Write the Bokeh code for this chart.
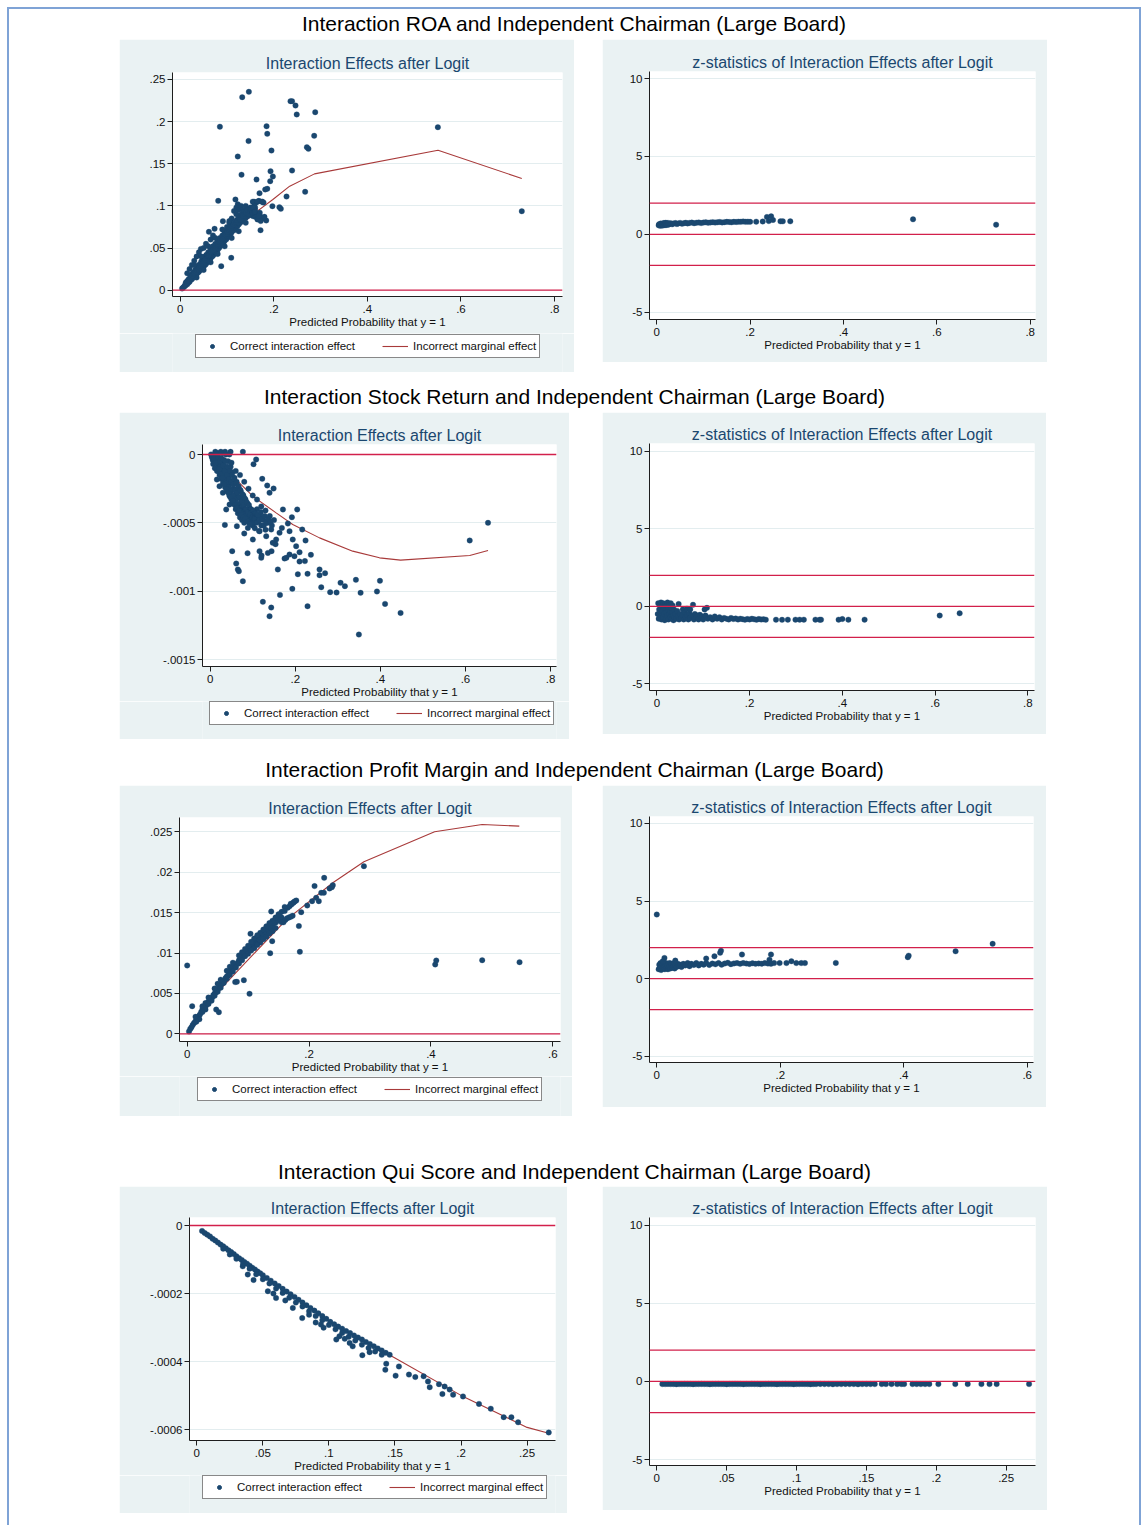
from bokeh.plotting import figure
from bokeh.models import Range1d, FixedTicker, Span, Legend, LegendItem, Label, Spacer
from bokeh.layouts import column, row
from bokeh.embed import file_html
from bokeh.resources import INLINE

# ---------------- data ----------------
row_titles = [
    "Interaction ROA and Independent Chairman (Large Board)",
    "Interaction Stock Return and Independent Chairman (Large Board)",
    "Interaction Profit Margin and Independent Chairman (Large Board)",
    "Interaction Qui Score and Independent Chairman (Large Board)",
]
left_title = "Interaction Effects after Logit"
right_title = "z-statistics of Interaction Effects after Logit"
x_axis_title = "Predicted Probability that y = 1"
legend_labels = ["Correct interaction effect", "Incorrect marginal effect"]

# (predicted probability, interaction effect)
roa_effect = [
    (0.1467,0.2354),(0.1325,0.229),(0.0848,0.194),(0.146,0.177),(0.123,0.1586),(0.131,0.137),
    (0.2357,0.2243),(0.239,0.2243),(0.2464,0.2191),(0.249,0.2085),(0.2885,0.2112),(0.2863,0.1832),
    (0.1845,0.1946),(0.186,0.1855),(0.195,0.1657),(0.2707,0.1697),(0.274,0.1677),(0.239,0.142),
    (0.193,0.1412),(0.198,0.1349),(0.1923,0.1293),(0.163,0.1313),(0.267,0.1167),(0.2272,0.1111),
    (0.1695,0.1151),(0.1816,0.1195),(0.186,0.1203),(0.197,0.0997),(0.212,0.0985),(0.215,0.0965),
    (0.0812,0.106),(0.118,0.1076),(0.123,0.102),(0.5506,0.1934),(0.730,0.0937),(0.1838,0.0827),
    (0.1716,0.0712),(0.0876,0.0285),(0.109,0.0384),(0.0613,0.0692),(0.0442,0.049),(0.0912,0.0819),
    (0.0734,0.0728),(0.12,0.098),(0.125,0.095),(0.115,0.094),(0.13,0.1),(0.158,0.105),(0.162,0.104),
    (0.168,0.106),(0.175,0.105),(0.178,0.104),(0.16,0.098),(0.165,0.09),(0.17,0.092),(0.172,0.087),
    (0.176,0.085),(0.18,0.087),(0.155,0.094),(0.15,0.09),(0.145,0.092),(0.14,0.095),(0.135,0.09),
    (0.1,0.075),(0.105,0.08),(0.11,0.085),(0.065,0.06),(0.07,0.065),(0.055,0.055),(0.05,0.05),
    (0.04,0.045),(0.035,0.04),(0.03,0.035),(0.025,0.03),(0.02,0.025),(0.015,0.02),
    (0.004,0.002),(0.006,0.003),(0.008,0.004),(0.010,0.005),(0.012,0.006),(0.012,0.009),(0.015,0.007),
    (0.015,0.011),(0.018,0.009),(0.018,0.013),(0.020,0.010),(0.022,0.012),(0.022,0.016),(0.025,0.013),
    (0.025,0.019),(0.028,0.015),(0.028,0.021),(0.030,0.016),(0.032,0.018),(0.032,0.024),(0.035,0.019),
    (0.035,0.025),(0.038,0.021),(0.038,0.028),(0.040,0.022),(0.040,0.030),(0.043,0.024),(0.043,0.031),
    (0.045,0.025),(0.045,0.034),(0.048,0.027),(0.048,0.036),(0.050,0.028),(0.050,0.038),(0.053,0.030),
    (0.053,0.040),(0.055,0.031),(0.056,0.042),(0.058,0.033),(0.060,0.035),(0.060,0.045),(0.063,0.036),
    (0.065,0.038),(0.065,0.048),(0.068,0.040),(0.070,0.041),(0.070,0.052),(0.073,0.043),(0.075,0.045),
    (0.075,0.055),(0.078,0.046),(0.080,0.048),(0.080,0.058),(0.083,0.050),(0.085,0.052),(0.085,0.062),
    (0.088,0.054),(0.090,0.055),(0.090,0.065),(0.093,0.057),(0.095,0.059),(0.095,0.068),(0.098,0.060),
    (0.100,0.062),(0.100,0.072),(0.103,0.064),(0.105,0.066),(0.105,0.075),(0.108,0.067),(0.110,0.069),
    (0.112,0.078),(0.115,0.071),(0.118,0.073),(0.120,0.082),(0.122,0.076),(0.125,0.078),(0.128,0.080),
    (0.130,0.088),(0.133,0.082),(0.135,0.085),(0.138,0.092),(0.140,0.086),(0.145,0.088),(0.150,0.090),
    (0.155,0.088),(0.160,0.087),(0.165,0.084),(0.168,0.088),(0.172,0.082),(0.035,0.015),(0.05,0.024),
    (0.065,0.033),(0.08,0.043),(0.095,0.052),(0.11,0.062),(0.125,0.07),(0.14,0.08),(0.030,0.030),
    (0.045,0.040),(0.06,0.052),(0.075,0.062),(0.09,0.072),(0.105,0.082),(0.12,0.09),(0.135,0.095),
    (0.14,0.1),(0.155,0.105),(0.165,0.105),(0.175,0.105),(0.15,0.098),(0.16,0.095),
    (0.027,0.017),(0.033,0.021),(0.037,0.023),(0.042,0.027),(0.047,0.03),(0.052,0.033),(0.057,0.036),
    (0.062,0.04),(0.067,0.043),(0.072,0.046),(0.077,0.05),(0.082,0.053),(0.087,0.056),(0.092,0.06),
    (0.097,0.063),(0.102,0.067),(0.107,0.07),(0.113,0.074),(0.117,0.077),(0.123,0.08),(0.127,0.083),
    (0.132,0.086),(0.137,0.088),(0.142,0.09),(0.147,0.093),(0.153,0.096),(0.158,0.1),
    (0.011,0.007),(0.014,0.009),(0.017,0.011),(0.019,0.012),(0.021,0.014),(0.024,0.016),(0.026,0.017),
    (0.029,0.019),(0.031,0.02),(0.034,0.022),(0.036,0.024),(0.039,0.025),(0.041,0.027),(0.044,0.029),
    (0.046,0.031),(0.049,0.032),(0.051,0.034),(0.054,0.036),(0.057,0.038),(0.059,0.04),(0.061,0.041),
    (0.064,0.043),(0.066,0.045),(0.069,0.047),(0.071,0.048),(0.074,0.05),(0.076,0.052),(0.079,0.054),
    (0.081,0.055),(0.084,0.057),(0.086,0.059),(0.089,0.061),(0.091,0.062),(0.094,0.064),(0.096,0.066),
    (0.099,0.067),(0.101,0.069),(0.104,0.071),(0.106,0.073),(0.109,0.074),(0.111,0.076),(0.114,0.078),
    (0.116,0.08),(0.119,0.081),(0.121,0.083),(0.124,0.085),(0.126,0.086),(0.129,0.084),(0.131,0.09),
    (0.134,0.088),(0.136,0.093),(0.139,0.09),(0.141,0.092),(0.144,0.095),(0.146,0.09),(0.149,0.094),
    (0.151,0.096),(0.154,0.092),(0.156,0.098),(0.159,0.093),
]
roa_marginal_x = [0.002, 0.04, 0.077, 0.12, 0.155, 0.198, 0.234, 0.287, 0.551, 0.730]
roa_marginal_y = [0.0016, 0.028, 0.052, 0.073, 0.0898, 0.1076, 0.1234, 0.138, 0.1661, 0.1325]
roa_z = [
    (0.004,0.58),(0.006,0.62),(0.008,0.66),(0.01,0.57),(0.012,0.6),(0.014,0.68),(0.016,0.63),(0.018,0.59),
    (0.02,0.66),(0.022,0.7),(0.025,0.62),(0.028,0.67),(0.03,0.71),(0.033,0.64),(0.036,0.69),(0.04,0.72),
    (0.043,0.66),(0.046,0.7),(0.05,0.73),(0.054,0.68),(0.058,0.71),(0.062,0.74),(0.066,0.7),(0.07,0.73),
    (0.075,0.75),(0.08,0.71),(0.085,0.74),(0.09,0.76),(0.095,0.72),(0.1,0.75),(0.105,0.77),(0.11,0.74),
    (0.115,0.76),(0.12,0.78),(0.125,0.75),(0.13,0.77),(0.135,0.79),(0.14,0.76),(0.145,0.78),(0.15,0.8),
    (0.155,0.79),(0.16,0.77),(0.165,0.8),(0.17,0.79),(0.175,0.81),(0.18,0.8),(0.185,0.82),(0.19,0.8),
    (0.195,0.81),(0.2,0.8),(0.213,0.81),(0.227,0.82),(0.236,1.11),(0.245,1.15),(0.24,0.85),(0.249,0.92),
    (0.265,0.83),(0.27,0.83),(0.286,0.83),(0.549,0.96),(0.727,0.62),(0.005,0.65),(0.007,0.55),(0.009,0.7),
    (0.011,0.64),(0.013,0.56),(0.015,0.72),(0.017,0.61),(0.019,0.74),(0.021,0.6),(0.024,0.73),
]

stock_effect = [
    (0.653,-0.0005),(0.610,-0.000629),(0.4475,-0.001159),(0.3495,-0.001317),(0.411,-0.001093),
    (0.392,-0.001002),(0.399,-0.000924),(0.3425,-0.000917),(0.3535,-0.001012),(0.3064,-0.000939),
    (0.3166,-0.000963),(0.282,-0.001007),(0.297,-0.00101),(0.261,-0.000971),(0.257,-0.000841),
    (0.257,-0.000883),(0.27,-0.000868),(0.2288,-0.00111),(0.2288,-0.000873),(0.206,-0.000876),
    (0.193,-0.000983),(0.164,-0.001027),(0.1395,-0.001183),(0.1434,-0.00112),(0.1238,-0.001078),
    (0.159,-0.000841),(0.0768,-0.000927),(0.0878,-0.000722),(0.0517,-0.000707),(0.0611,-0.000798),
    (0.065,-0.000841),(0.0674,-0.000854),(0.08,-0.000578),(0.0627,-0.000524),(0.0345,-0.000515),
    (0.1003,-0.000622),(0.116,-0.000707),(0.12,-0.000756),(0.1207,-0.000739),(0.1356,-0.00072),
    (0.1442,-0.000707),(0.1536,-0.000656),(0.1748,-0.000761),(0.179,-0.000756),(0.1865,-0.000732),
    (0.198,-0.000744),(0.21,-0.000715),(0.21,-0.000783),(0.2226,-0.00078),(0.2367,-0.000734),
    (0.2241,-0.000629),(0.2163,-0.000549),(0.2045,-0.000402),(0.192,-0.000459),(0.1826,-0.000505),
    (0.171,-0.000402),(0.1685,-0.000537),(0.149,-0.000249),(0.108,-0.0000366),(0.1019,-0.0000707),
    (0.0768,0.0000195),(0.0478,0.0000195),(0.1223,-0.000178),(0.1395,-0.00028),(0.134,-0.000227),
    (0.1865,-0.000561),(0.202,-0.000671),(0.194,-0.000622),(0.163,-0.000573),(0.147,-0.000646),
    (0.1317,-0.000598),(0.155,-0.000622),(0.1434,-0.000549),(0.116,-0.000561),(0.1003,-0.000476),
    (0.0886,-0.000537),(0.0157,-0.000183),(0.0219,-0.000232),(0.0298,-0.00028),(0.0376,-0.000402),
    (0.0455,-0.000366),
    (0.002,0.0),(0.004,-0.00002),(0.006,-0.00004),(0.008,-0.00001),(0.01,-0.00006),(0.012,-0.00003),
    (0.014,-0.0001),(0.015,0.00001),(0.017,-0.00005),(0.018,-0.00012),(0.02,0.00001),(0.02,-0.00008),
    (0.022,-0.00015),(0.024,-0.00003),(0.025,-0.0001),(0.026,-0.00018),(0.028,0.00001),(0.028,-0.00007),
    (0.03,-0.00013),(0.03,-0.00021),(0.032,-0.00004),(0.033,-0.00016),(0.035,-0.00009),(0.035,-0.00024),
    (0.037,0.0),(0.038,-0.00019),(0.04,-0.00012),(0.04,-0.00027),(0.042,-0.00005),(0.043,-0.00022),
    (0.045,-0.00015),(0.045,-0.0003),(0.048,-0.00009),(0.05,-0.0002),(0.05,-0.00033),(0.052,-0.00013),
    (0.055,-0.00025),(0.055,-0.00036),(0.057,-0.00017),(0.06,-0.00029),(0.06,-0.0004),(0.062,-0.0002),
    (0.065,-0.00032),(0.065,-0.00043),(0.067,-0.00024),(0.07,-0.00036),(0.07,-0.00046),(0.072,-0.00027),
    (0.075,-0.0004),(0.075,-0.00048),(0.078,-0.0003),(0.08,-0.00042),(0.08,-0.0005),(0.083,-0.00033),
    (0.085,-0.00045),(0.088,-0.00036),(0.09,-0.00048),(0.092,-0.00039),(0.095,-0.0005),(0.098,-0.00042),
    (0.1,-0.00052),(0.103,-0.00044),(0.105,-0.00054),(0.108,-0.00046),(0.11,-0.0004),(0.113,-0.00049),
    (0.115,-0.00056),(0.118,-0.00045),(0.12,-0.00052),(0.125,-0.00048),(0.13,-0.00055),(0.135,-0.0005),
    (0.14,-0.00045),(0.145,-0.00052),(0.15,-0.00048),(0.06,-0.00012),(0.07,-0.00015),(0.08,-0.0002),
    (0.09,-0.00025),(0.1,-0.0003),(0.11,-0.00033),(0.12,-0.00038),(0.13,-0.00041),(0.05,-0.00006),
    (0.045,0.0),(0.035,0.00002),(0.025,0.00002),(0.012,0.00002),
    (0.016,-0.00003),(0.019,-0.00006),(0.023,-0.00009),(0.027,-0.00012),(0.031,-0.00015),
    (0.034,-0.00018),(0.039,-0.00021),(0.044,-0.00024),(0.049,-0.00027),(0.054,-0.0003),
    (0.059,-0.00033),(0.064,-0.00036),(0.069,-0.00039),(0.074,-0.00042),(0.079,-0.00045),
    (0.084,-0.00048),(0.089,-0.00043),(0.094,-0.00046),(0.099,-0.00049),(0.104,-0.0005),
    (0.005,-0.00001),(0.007,-0.00007),(0.009,-0.00003),(0.011,-0.0001),(0.013,-0.00006),(0.016,-0.00012),
    (0.018,-0.00002),(0.021,-0.00011),(0.023,-0.00005),(0.026,-0.00014),(0.027,-0.00003),(0.029,-0.00017),
    (0.031,-0.00008),(0.033,-0.00022),(0.034,-0.00012),(0.036,-0.00005),(0.038,-0.00025),(0.039,-0.00015),
    (0.041,-0.00009),(0.043,-0.00028),(0.044,-0.00018),(0.046,-0.00012),(0.047,-0.00031),(0.049,-0.0002),
    (0.051,-0.00015),(0.053,-0.00034),(0.054,-0.00022),(0.056,-0.00018),(0.058,-0.00037),(0.059,-0.00026),
    (0.061,-0.00021),(0.063,-0.00039),(0.064,-0.00028),(0.066,-0.00023),(0.068,-0.00041),(0.069,-0.00031),
    (0.071,-0.00026),(0.073,-0.00044),(0.074,-0.00034),(0.076,-0.00029),(0.078,-0.00046),(0.079,-0.00037),
    (0.081,-0.00032),(0.083,-0.00047),(0.084,-0.0004),(0.086,-0.00035),(0.088,-0.00049),(0.089,-0.00042),
    (0.091,-0.00037),(0.093,-0.00051),(0.094,-0.00044),(0.096,-0.0004),(0.099,-0.00046),(0.101,-0.00041),
    (0.104,-0.00047),(0.106,-0.00043),(0.109,-0.0005),(0.112,-0.00044),(0.116,-0.00048),(0.119,-0.00042),
    (0.122,-0.00047),(0.126,-0.00052),(0.128,-0.00045),(0.132,-0.0005),(0.137,-0.00047),(0.142,-0.00049),
]
stock_marginal_x = [0.0, 0.045, 0.1, 0.155, 0.194, 0.257, 0.335, 0.398, 0.4475, 0.61, 0.653]
stock_marginal_y = [0.0, -0.000134, -0.000305, -0.000427, -0.000512, -0.00061, -0.000707,
                    -0.000756, -0.000773, -0.000739, -0.000702]
stock_z = [
    (0.002,-0.5),(0.003,0.2),(0.004,-0.8),(0.005,-0.2),(0.006,0.1),(0.007,-0.6),(0.008,-0.4),(0.009,0.25),
    (0.01,-0.85),(0.011,0.0),(0.012,-0.3),(0.013,-0.7),(0.014,0.2),(0.015,-0.5),(0.016,-0.1),(0.017,-0.9),
    (0.018,0.15),(0.019,-0.4),(0.02,-0.75),(0.021,0.05),(0.022,-0.6),(0.023,0.25),(0.024,-0.2),(0.025,-0.85),
    (0.026,0.1),(0.027,-0.5),(0.028,-0.3),(0.029,-0.7),(0.03,0.2),(0.031,-0.1),(0.032,-0.8),(0.033,-0.4),
    (0.034,0.05),(0.035,-0.6),(0.036,-0.9),(0.037,-0.2),(0.038,-0.7),(0.04,-0.5),(0.042,-0.8),(0.044,-0.3),
    (0.046,-0.65),(0.047,0.15),(0.048,-0.85),(0.05,-0.5),(0.052,-0.75),(0.055,-0.6),(0.056,-0.2),
    (0.058,-0.85),(0.06,-0.4),(0.062,-0.7),(0.065,-0.15),(0.065,-0.55),(0.068,-0.85),(0.07,-0.45),
    (0.072,-0.2),(0.072,-0.75),(0.075,-0.6),(0.078,0.1),(0.08,-0.85),(0.082,-0.5),(0.085,-0.7),
    (0.088,-0.6),(0.09,-0.85),(0.093,-0.55),(0.095,-0.75),(0.098,-0.65),(0.1,-0.85),(0.103,-0.2),
    (0.108,-0.1),(0.105,-0.6),(0.11,-0.8),(0.115,-0.7),(0.12,-0.85),(0.125,-0.65),(0.13,-0.8),(0.135,-0.7),
    (0.14,-0.85),(0.145,-0.75),(0.15,-0.8),(0.155,-0.85),(0.16,-0.75),(0.165,-0.82),(0.17,-0.78),
    (0.175,-0.85),(0.18,-0.8),(0.185,-0.83),(0.19,-0.86),(0.195,-0.82),(0.2,-0.85),(0.205,-0.8),
    (0.21,-0.84),(0.215,-0.86),(0.22,-0.82),(0.225,-0.85),(0.23,-0.84),(0.235,-0.86),(0.257,-0.86),
    (0.27,-0.87),(0.2825,-0.86),(0.299,-0.86),(0.308,-0.86),(0.317,-0.86),(0.342,-0.86),(0.351,-0.87),
    (0.354,-0.86),(0.392,-0.86),(0.4,-0.82),(0.413,-0.86),(0.448,-0.86),(0.61,-0.6),(0.653,-0.45),
]

margin_effect = [
    (0.003,0.0003),(0.005,0.0006),(0.007,0.0008),(0.009,0.0011),(0.011,0.0013),(0.013,0.0015),
    (0.015,0.0017),(0.017,0.0019),(0.019,0.0022),(0.021,0.0024),(0.023,0.0027),(0.025,0.003),
    (0.027,0.0031),(0.029,0.0034),(0.031,0.0035),(0.033,0.0038),(0.035,0.004),(0.037,0.0041),
    (0.039,0.0044),(0.041,0.0045),(0.043,0.0048),(0.045,0.005),(0.047,0.0051),(0.049,0.0054),
    (0.051,0.0056),(0.053,0.0058),(0.055,0.0061),(0.057,0.0062),(0.059,0.0065),(0.061,0.0066),
    (0.063,0.0069),(0.065,0.0071),(0.067,0.0072),(0.069,0.0075),(0.071,0.0077),(0.073,0.0078),
    (0.075,0.0081),(0.077,0.0082),(0.079,0.0085),(0.081,0.0086),(0.083,0.0088),(0.085,0.0091),
    (0.087,0.0092),(0.089,0.0094),(0.091,0.0095),(0.093,0.0098),(0.095,0.0099),(0.097,0.0101),
    (0.099,0.0103),(0.101,0.0104),(0.103,0.0106),(0.105,0.0108),(0.107,0.011),(0.109,0.0111),
    (0.111,0.0113),(0.113,0.0114),(0.115,0.0117),(0.117,0.0117),(0.119,0.012),(0.121,0.012),
    (0.123,0.0123),(0.125,0.0123),(0.127,0.0126),(0.129,0.0126),(0.131,0.0129),(0.133,0.0129),
    (0.135,0.0132),(0.137,0.0132),(0.14,0.0134),(0.143,0.0137),(0.146,0.0138),(0.149,0.0141),
    (0.152,0.0142),(0.155,0.0144),(0.158,0.0138),(0.161,0.0141),(0.164,0.0143),(0.167,0.0144),
    (0.170,0.0145),(0.173,0.0146),(0.165,0.0156),(0.168,0.0158),(0.171,0.016),(0.174,0.0162),
    (0.177,0.0164),(0.179,0.0165),(0.02,0.0018),(0.03,0.003),(0.04,0.0041),(0.05,0.0052),(0.06,0.0063),
    (0.07,0.0073),(0.08,0.0082),(0.09,0.0091),(0.1,0.0099),(0.11,0.0106),(0.12,0.0113),(0.13,0.012),
    (0.14,0.0127),(0.03,0.0038),(0.05,0.0062),(0.07,0.0083),(0.09,0.0101),(0.1,0.0109),(0.11,0.0118),
    (0.12,0.0125),(0.13,0.0133),(0.14,0.014),(0.15,0.0148),(0.155,0.0151),
    (0.015,0.0015),(0.025,0.0027),(0.035,0.0037),(0.045,0.0047),(0.055,0.0057),(0.065,0.0068),
    (0.075,0.0077),(0.085,0.0087),(0.095,0.0096),(0.105,0.0103),(0.115,0.011),(0.125,0.0117),
    (0.135,0.0124),(0.145,0.0131),(0.155,0.0138),(0.025,0.0034),(0.035,0.0045),(0.045,0.0056),
    (0.055,0.0067),(0.065,0.0078),(0.075,0.0088),(0.085,0.0097),(0.095,0.0105),(0.105,0.0114),
    (0.115,0.0122),(0.125,0.0129),(0.135,0.0137),(0.145,0.0144),(0.16,0.0157),(0.17,0.0161),
    (0.175,0.0163),
    (0.0,0.00846),(0.0082,0.00342),(0.0137,0.0021),(0.0476,0.003),(0.052,0.00268),(0.1023,0.00495),
    (0.093,0.00664),(0.0788,0.0064),(0.0815,0.00644),(0.1039,0.01238),(0.1379,0.01514),(0.1362,0.00998),
    (0.1395,0.01147),(0.1849,0.01015),(0.1833,0.01333),(0.1871,0.01506),(0.209,0.01828),(0.2248,0.0193),
    (0.197,0.01588),(0.205,0.01642),(0.216,0.01642),(0.2117,0.01683),(0.22,0.01745),(0.2243,0.01745),
    (0.2336,0.01799),(0.239,0.0184),(0.2374,0.01815),(0.29,0.02075),(0.407,0.00858),(0.4087,0.00907),
    (0.4841,0.00911),(0.5454,0.00887),(0.1515,0.01477),(0.16,0.0152),
]
margin_marginal_x = [0.0, 0.053, 0.108, 0.1625, 0.239, 0.29, 0.406, 0.484, 0.545]
margin_marginal_y = [0.0, 0.0054, 0.0098, 0.0141, 0.0187, 0.0213, 0.025, 0.0259, 0.0257]
margin_z = [
    (0.003,0.6),(0.004,0.9),(0.005,0.7),(0.006,1.0),(0.007,0.55),(0.008,0.8),(0.009,0.95),(0.01,0.65),
    (0.011,1.05),(0.012,0.75),(0.013,0.6),(0.014,0.9),(0.015,1.0),(0.016,0.7),(0.017,0.85),(0.018,0.6),
    (0.019,0.95),(0.02,0.75),(0.021,1.0),(0.022,0.65),(0.023,0.85),(0.024,0.95),(0.025,0.7),(0.026,0.9),
    (0.027,0.8),(0.028,1.0),(0.029,0.65),(0.03,0.85),(0.032,0.75),(0.034,0.95),(0.036,0.8),(0.038,0.9),
    (0.04,0.75),(0.043,0.95),(0.046,0.85),(0.05,1.0),(0.053,0.8),(0.056,0.95),(0.06,0.88),(0.064,1.0),
    (0.068,0.85),(0.072,0.95),(0.076,0.9),(0.08,1.0),(0.085,0.88),(0.09,0.97),(0.095,0.92),(0.1,1.0),
    (0.105,0.9),(0.11,0.97),(0.115,1.02),(0.12,0.93),(0.125,0.98),(0.13,1.0),(0.135,0.95),(0.14,1.0),
    (0.145,0.97),(0.15,0.94),(0.155,0.99),(0.16,0.95),(0.165,0.98),(0.17,0.96),(0.175,1.0),(0.18,0.97),
    (0.185,0.95),(0.19,1.0),(0.199,1.0),(0.21,1.0),(0.218,1.12),(0.226,1.0),(0.234,1.0),(0.24,1.0),
    (0.0,4.13),(0.0124,1.33),(0.0097,1.12),(0.030,1.16),(0.08,1.29),(0.0934,1.44),(0.1026,1.66),
    (0.104,1.8),(0.138,1.55),(0.185,1.55),(0.1825,1.22),(0.29,1.01),(0.4066,1.38),(0.408,1.48),
    (0.484,1.76),(0.544,2.24),
]

qui_effect = [
    (0.004,-0.000016),(0.006,-0.000022),(0.008,-0.000027),(0.01,-0.000032),(0.012,-0.000039),
    (0.014,-0.000044),(0.016,-0.00005),(0.018,-0.000056),(0.02,-0.000061),(0.022,-0.000067),
    (0.024,-0.000073),(0.026,-0.000078),(0.028,-0.000084),(0.03,-0.00009),(0.032,-0.000096),
    (0.034,-0.000101),(0.036,-0.000107),(0.038,-0.000112),(0.04,-0.000118),(0.042,-0.000124),
    (0.044,-0.000129),(0.046,-0.000135),(0.048,-0.00014),(0.05,-0.000146),(0.053,-0.000154),
    (0.056,-0.000162),(0.059,-0.00017),(0.062,-0.000178),(0.065,-0.000186),(0.068,-0.000194),
    (0.071,-0.000202),(0.074,-0.00021),(0.077,-0.000218),(0.08,-0.000226),(0.083,-0.000234),
    (0.086,-0.000242),(0.089,-0.00025),(0.092,-0.000258),(0.095,-0.000266),(0.098,-0.000274),
    (0.101,-0.000283),(0.104,-0.00029),(0.107,-0.000297),(0.11,-0.000303),(0.113,-0.00031),
    (0.116,-0.000316),(0.119,-0.000323),(0.122,-0.000329),(0.125,-0.000335),(0.128,-0.000342),
    (0.131,-0.000348),(0.134,-0.000355),(0.137,-0.000361),(0.14,-0.000367),(0.143,-0.000374),
    (0.146,-0.00038),(0.02,-0.000068),(0.025,-0.000085),(0.03,-0.000098),(0.035,-0.000113),
    (0.04,-0.000127),(0.045,-0.000143),(0.05,-0.000158),(0.055,-0.00017),(0.06,-0.000185),
    (0.065,-0.000198),(0.07,-0.000212),(0.075,-0.000226),(0.08,-0.000238),(0.085,-0.000252),
    (0.09,-0.000266),(0.095,-0.000278),(0.1,-0.000292),(0.105,-0.000305),(0.11,-0.000316),
    (0.115,-0.000327),(0.12,-0.000338),(0.125,-0.00035),(0.13,-0.00036),(0.135,-0.00037),
    (0.14,-0.00038),(0.0386,-0.000144),(0.0348,-0.00012),(0.043,-0.00016),(0.058,-0.0002),
    (0.067,-0.00022),(0.085,-0.000262),(0.09,-0.000285),(0.096,-0.0003),(0.108,-0.000325),
    (0.112,-0.000333),(0.118,-0.000355),(0.0538,-0.000193),(0.06,-0.000213),(0.0727,-0.000242),
    (0.0798,-0.000272),(0.094,-0.000291),(0.1056,-0.000335),(0.1157,-0.000345),(0.1253,-0.000381),
    (0.1308,-0.000372),(0.1427,-0.000424),(0.1434,-0.000406),(0.1505,-0.000441),(0.153,-0.000414),
    (0.1606,-0.000438),(0.1654,-0.000445),(0.1717,-0.000443),(0.175,-0.000458),(0.1763,-0.000475),
    (0.1833,-0.000466),(0.1859,-0.000495),(0.1876,-0.000473),(0.1914,-0.000482),(0.194,-0.000497),
    (0.2015,-0.000502),(0.2136,-0.000524),(0.2225,-0.000538),(0.2323,-0.000563),(0.2381,-0.000563),
    (0.2432,-0.000578),(0.2664,-0.000608),
]
qui_marginal_x = [0.0028, 0.025, 0.05, 0.1, 0.15, 0.2, 0.25, 0.2664]
qui_marginal_y = [-0.0000118, -0.000074, -0.000146, -0.000281, -0.000389, -0.000499, -0.000593, -0.00061]
qui_z = [
    (0.004,-0.17),(0.006,-0.17),(0.008,-0.16),(0.01,-0.17),(0.012,-0.17),(0.014,-0.18),(0.016,-0.17),
    (0.018,-0.17),(0.02,-0.16),(0.022,-0.17),(0.024,-0.17),(0.026,-0.18),(0.028,-0.17),(0.03,-0.17),
    (0.032,-0.16),(0.034,-0.17),(0.036,-0.17),(0.038,-0.18),(0.04,-0.17),(0.042,-0.17),(0.044,-0.16),
    (0.046,-0.17),(0.048,-0.17),(0.05,-0.18),(0.052,-0.17),(0.054,-0.17),(0.056,-0.16),(0.058,-0.17),
    (0.06,-0.17),(0.062,-0.18),(0.064,-0.17),(0.066,-0.17),(0.068,-0.16),(0.07,-0.17),(0.072,-0.17),
    (0.074,-0.18),(0.076,-0.17),(0.078,-0.17),(0.08,-0.16),(0.082,-0.17),(0.084,-0.17),(0.086,-0.18),
    (0.088,-0.17),(0.09,-0.17),(0.092,-0.16),(0.094,-0.17),(0.096,-0.17),(0.098,-0.18),(0.1,-0.17),
    (0.102,-0.17),(0.104,-0.16),(0.106,-0.17),(0.108,-0.17),(0.11,-0.18),(0.112,-0.17),(0.114,-0.17),
    (0.117,-0.16),(0.12,-0.17),(0.123,-0.17),(0.126,-0.18),(0.129,-0.17),(0.132,-0.17),(0.135,-0.16),
    (0.138,-0.17),(0.141,-0.17),(0.144,-0.18),(0.147,-0.17),(0.15,-0.17),(0.153,-0.17),(0.156,-0.17),
    (0.161,-0.17),(0.164,-0.17),(0.168,-0.17),(0.172,-0.17),(0.175,-0.17),(0.177,-0.17),(0.183,-0.17),
    (0.186,-0.17),(0.189,-0.17),(0.192,-0.17),(0.195,-0.17),(0.2015,-0.17),(0.2136,-0.17),(0.2225,-0.17),
    (0.2323,-0.17),(0.2381,-0.17),(0.2432,-0.17),(0.2664,-0.17),
]

z_ref_lines = [-2, 0, 2]
z_ticks = [-5, 0, 5, 10]
z_tick_labels = ["-5", "0", "5", "10"]
x8_ticks = [0, 0.2, 0.4, 0.6, 0.8]
x8_labels = ["0", ".2", ".4", ".6", ".8"]
x6_ticks = [0, 0.2, 0.4, 0.6]
x6_labels = ["0", ".2", ".4", ".6"]
x25_ticks = [0, 0.05, 0.1, 0.15, 0.2, 0.25]
x25_labels = ["0", ".05", ".1", ".15", ".2", ".25"]
roa_y_ticks = [0, 0.05, 0.1, 0.15, 0.2, 0.25]
roa_y_labels = ["0", ".05", ".1", ".15", ".2", ".25"]
stock_y_ticks = [0, -0.0005, -0.001, -0.0015]
stock_y_labels = ["0", "-.0005", "-.001", "-.0015"]
margin_y_ticks = [0, 0.005, 0.01, 0.015, 0.02, 0.025]
margin_y_labels = ["0", ".005", ".01", ".015", ".02", ".025"]
qui_y_ticks = [0, -0.0002, -0.0004, -0.0006]
qui_y_labels = ["0", "-.0002", "-.0004", "-.0006"]

# ---------------- styling ----------------
FONT = "Liberation Sans"
NAVY = "#1a476f"
BG = "#eaf2f3"
REF = "#d2204b"
MARG = "#a83a3a"
AXIS = "#1e1e1e"
FRAME_COLOR = "#7fa3d6"
TOTAL_W = 1130


def base_panel(w, h, L, R, T, B, xr, yr, xt, xl, yt, yl, title):
    p = figure(width=w, height=h, x_range=Range1d(*xr), y_range=Range1d(*yr),
               output_backend="svg", toolbar_location=None, title=title,
               min_border_left=L, min_border_right=R, min_border_top=T, min_border_bottom=B)
    p.background_fill_color = "white"
    p.border_fill_color = BG
    p.outline_line_color = None
    p.title.align = "center"
    p.title.text_font = FONT
    p.title.text_font_size = "16px"
    p.title.text_font_style = "normal"
    p.title.text_color = NAVY
    p.title.standoff = 1
    p.xaxis.ticker = FixedTicker(ticks=xt)
    p.xaxis.major_label_overrides = dict(zip(xt, xl))
    p.yaxis.ticker = FixedTicker(ticks=yt)
    p.yaxis.major_label_overrides = dict(zip(yt, yl))
    for ax in (p.xaxis[0], p.yaxis[0]):
        ax.axis_line_color = AXIS
        ax.major_tick_line_color = AXIS
        ax.minor_tick_line_color = None
        ax.major_tick_in = 0
        ax.major_tick_out = 5
        ax.major_label_text_font = FONT
        ax.major_label_text_font_size = "11.5px"
        ax.major_label_text_color = "#111111"
    p.yaxis.major_label_standoff = 2
    p.xaxis.major_label_standoff = 3
    p.xaxis.axis_label = x_axis_title
    p.xaxis.axis_label_text_font = FONT
    p.xaxis.axis_label_text_font_size = "11.5px"
    p.xaxis.axis_label_text_font_style = "normal"
    p.xaxis.axis_label_text_color = "#111111"
    p.xaxis.axis_label_standoff = 0
    p.xgrid.visible = False
    p.ygrid.grid_line_color = "#e3edef"
    p.ygrid.grid_line_width = 1
    return p


def legend_box(w, h, dx, dy, xs, ys, mx, my):
    # strip under the plot; its x range lies beyond the data, so the series drawn
    # here stay out of view and only lend their styles to the legend
    lf = figure(width=w, height=h, output_backend="svg", toolbar_location=None,
                x_axis_type=None, y_axis_type=None, min_border=0,
                x_range=Range1d(10, 11), y_range=Range1d(10, 11))
    lf.background_fill_color = BG
    lf.border_fill_color = BG
    lf.outline_line_color = None
    s = lf.scatter(xs, ys, size=4, fill_color=NAVY, line_color=NAVY)
    l = lf.line(mx, my, line_color=MARG, line_width=1.1)
    leg = Legend(items=[LegendItem(label=legend_labels[0], renderers=[s]),
                        LegendItem(label=legend_labels[1], renderers=[l])],
                 location=(dx, dy), orientation="horizontal",
                 border_line_color="#111111", border_line_width=1,
                 background_fill_color="white", background_fill_alpha=1.0,
                 label_text_font=FONT, label_text_font_size="11.5px",
                 label_text_color="#111111",
                 glyph_width=26, glyph_height=10, label_height=16, label_standoff=5,
                 padding=3, spacing=27, margin=0)
    lf.add_layout(leg)
    return lf


def effect_panel(w, h, L, R, T, B, xr, yr, xt, xl, yt, yl, pts, mx, my, leg_h, leg_dx, leg_dy):
    p = base_panel(w, h, L, R, T, B, xr, yr, xt, xl, yt, yl, left_title)
    p.add_layout(Span(location=0, dimension="width", line_color=REF, line_width=1.3))
    p.line(mx, my, line_color=MARG, line_width=1.1)
    xs = [a for a, b in pts]
    ys = [b for a, b in pts]
    p.scatter(xs, ys, size=5.5, fill_color=NAVY, line_color=NAVY, line_width=0.3)
    return column(p, legend_box(w, leg_h, leg_dx, leg_dy, xs, ys, mx, my))


def z_panel(w, h, L, R, T, B, xr, yr, xt, xl, pts):
    p = base_panel(w, h, L, R, T, B, xr, yr, xt, xl, z_ticks, z_tick_labels, right_title)
    for v in z_ref_lines:
        p.add_layout(Span(location=v, dimension="width", line_color=REF, line_width=1.3))
    xs = [a for a, b in pts]
    ys = [b for a, b in pts]
    p.scatter(xs, ys, size=5.5, fill_color=NAVY, line_color=NAVY, line_width=0.3)
    return p


def title_fig(text, h, y):
    p = figure(width=TOTAL_W, height=h, output_backend="svg", toolbar_location=None,
               x_axis_type=None, y_axis_type=None, min_border=0,
               x_range=Range1d(0, 1), y_range=Range1d(0, 1))
    p.outline_line_color = None
    p.background_fill_color = "white"
    p.border_fill_color = "white"
    p.add_layout(Label(x=565, y=y, x_units="screen", y_units="screen", text=text,
                       text_align="center", text_baseline="middle", text_font=FONT,
                       text_font_size="21px", text_color="#000000"))
    return p


p1 = effect_panel(455, 294, 53, 12, 33, 37, (-0.0165, 0.817), (-0.0075, 0.2583),
                  x8_ticks, x8_labels, roa_y_ticks, roa_y_labels,
                  roa_effect, roa_marginal_x, roa_marginal_y, 39, 23, 14)
p2 = z_panel(445, 323, 47, 12, 32, 43, (-0.0156, 0.8114), (-5.47, 10.45), x8_ticks, x8_labels, roa_z)

p3 = effect_panel(450, 289, 83, 13, 32, 35, (-0.0181, 0.814), (-0.001551, 0.0000732),
                  x8_ticks, x8_labels, stock_y_ticks, stock_y_labels,
                  stock_effect, stock_marginal_x, stock_marginal_y, 38, 7, 14)
p4 = z_panel(444, 322, 47, 12, 31, 44, (-0.0158, 0.8144), (-5.43, 10.5), x8_ticks, x8_labels, stock_z)

p5 = effect_panel(453, 291, 60, 12, 32, 35, (-0.0126, 0.6126), (-0.00095, 0.02677),
                  x6_ticks, x6_labels, margin_y_ticks, margin_y_labels,
                  margin_effect, margin_marginal_x, margin_marginal_y, 40, 18, 15)
p6 = z_panel(444, 322, 47, 13, 31, 45, (-0.0118, 0.6102), (-5.41, 10.45), x6_ticks, x6_labels, margin_z)

p7 = effect_panel(448, 289, 70, 12, 31, 35, (-0.0055, 0.2715), (-0.0006315, 0.0000235),
                  x25_ticks, x25_labels, qui_y_ticks, qui_y_labels,
                  qui_effect, qui_marginal_x, qui_marginal_y, 38, 13, 14)
p8 = z_panel(445, 324, 47, 12, 31, 45, (-0.0052, 0.271), (-5.38, 10.49), x25_ticks, x25_labels, qui_z)


def panel_row(a, gap, b, h):
    return row(Spacer(width=110, height=h), a, Spacer(width=gap, height=h), b)


layout = column(
    title_fig(row_titles[0], 30, 16),
    panel_row(p1, 28, p2, 333),
    title_fig(row_titles[1], 40, 16),
    panel_row(p3, 33, p4, 327),
    title_fig(row_titles[2], 46, 16),
    panel_row(p5, 30, p6, 331),
    title_fig(row_titles[3], 70, 15),
    panel_row(p7, 35, p8, 327),
    Spacer(width=TOTAL_W, height=12),
    margin=(7, 0, 0, 7),
    styles={"border-left": f"2px solid {FRAME_COLOR}",
            "border-top": f"2px solid {FRAME_COLOR}",
            "border-right": f"2px solid {FRAME_COLOR}"},
)

open("out.html", "w").write(file_html(layout, INLINE))
